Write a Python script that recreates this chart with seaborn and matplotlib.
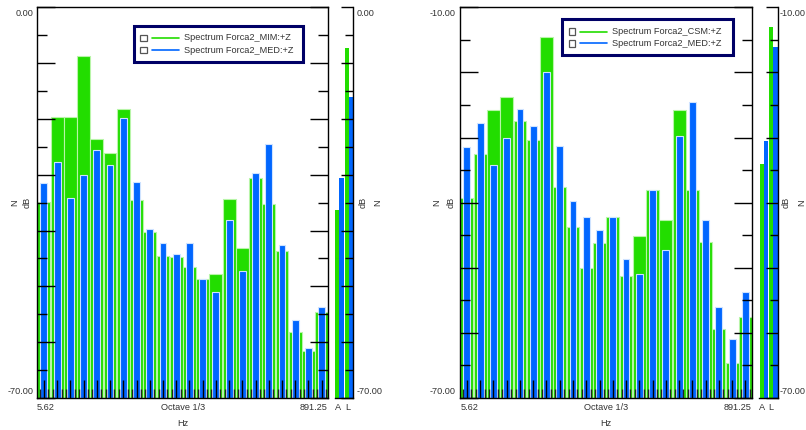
import numpy as np
import pandas as pd
import matplotlib
matplotlib.use("Agg")
import matplotlib.pyplot as plt
import seaborn as sns
from matplotlib.patches import Rectangle
from matplotlib.lines import Line2D

# ---------------- data ----------------
bands = ["6.3", "8", "10", "12.5", "16", "20", "25", "31.5", "40", "50", "63",
         "80", "100", "125", "160", "200", "250", "315", "400", "500", "630", "800"]

mim = [-34.9, -19.7, -19.7, -8.7, -23.6, -26.1, -18.3, -34.5, -40.3, -44.6, -44.7,
       -46.5, -48.6, -47.8, -34.3, -43.2, -30.6, -35.2, -43.6, -58.1, -61.5, -54.6]
csm = [-39.3, -32.5, -25.7, -23.8, -27.4, -30.4, -14.6, -37.6, -43.7, -50.0, -46.2,
       -42.2, -51.2, -45.1, -38.0, -42.7, -25.8, -38.0, -46.1, -59.4, -64.7, -57.5]
med = [-31.5, -27.7, -34.2, -30.0, -25.6, -28.2, -19.9, -31.3, -39.7, -42.2, -44.2,
       -42.2, -48.7, -51.0, -38.1, -47.2, -29.7, -24.5, -42.6, -56.0, -61.0, -53.7]

overall = ["A", "L"]
mim_overall = [-36.3, -7.3]
csm_overall = [-34.0, -13.0]
med_overall = [-30.6, -16.1]

legend_left = ["Spectrum Forca2_MIM:+Z", "Spectrum Forca2_MED:+Z"]
legend_right = ["Spectrum Forca2_CSM:+Z", "Spectrum Forca2_MED:+Z"]
x_low_label, x_mid_label, x_high_label = "5.62", "Octave 1/3", "891.25"

# ---------------- style ----------------
W, H = 806, 430
sns.set_style("white")
plt.rcParams["font.family"] = ["Liberation Sans", "DejaVu Sans"]
FS = 6.6
TXT = "#333333"
GREEN = "#22DD00"
BLUE = "#0066FF"
GREEN_EDGE = "#b8f5a8"
BLUE_EDGE = "#cfe3ff"

fig = plt.figure(figsize=(W / 100, H / 100), dpi=100)
fig.patch.set_facecolor("white")


def px_axes(x0, y0, x1, y1):
    return fig.add_axes([x0 / W, 1 - y1 / H, (x1 - x0) / W, (y1 - y0) / H])


def ftext(x, y, s, **kw):
    kw.setdefault("fontsize", FS)
    kw.setdefault("color", TXT)
    fig.text(x / W, 1 - y / H, s, **kw)


FLOOR = -70.0


def main_panel(ax, green_vals, top):
    df = pd.DataFrame({"band": bands,
                       "green": np.array(green_vals) - FLOOR,
                       "blue": np.array(med) - FLOOR})
    sns.barplot(data=df, x="band", y="green", order=bands, color=GREEN,
                width=0.97, bottom=FLOOR, edgecolor=GREEN_EDGE, linewidth=0.8,
                saturation=1, ax=ax)
    sns.barplot(data=df, x="band", y="blue", order=bands, color=BLUE,
                width=0.52, bottom=FLOOR, edgecolor=BLUE_EDGE, linewidth=0.8,
                saturation=1, ax=ax)
    ax.set_xlim(-0.5, len(bands) - 0.5)
    ax.set_ylim(FLOOR, top)
    ax.set_xlabel("")
    ax.set_ylabel("")
    ax.set_axisbelow(False)
    for s in ax.spines.values():
        s.set_visible(True)
        s.set_color("black")
        s.set_linewidth(1.0)
        s.set_zorder(3)
    ax.set_xticks(np.arange(len(bands)))
    ax.set_xticks(np.concatenate([np.arange(len(bands)) - 1 / 3,
                                  np.arange(len(bands)) + 1 / 3]), minor=True)
    ax.set_xticklabels([])
    ax.set_yticks(np.arange(FLOOR, top + 0.1, 10))
    ax.set_yticks(np.arange(FLOOR + 5, top, 10), minor=True)
    ax.set_yticklabels([])
    ax.tick_params(axis="x", which="major", direction="in", length=13, width=1,
                   color="black", bottom=True, top=False)
    ax.tick_params(axis="x", which="minor", direction="in", length=6.5, width=1,
                   color="#222222", bottom=True, top=False)
    ax.tick_params(axis="y", which="major", direction="in", length=13, width=1,
                   color="black", left=True, right=True)
    ax.tick_params(axis="y", which="minor", direction="in", length=7, width=1,
                   color="black", left=True, right=True)


def side_panel(ax, green_vals, top):
    df = pd.DataFrame({"metric": overall * 2,
                       "series": ["g"] * 2 + ["b"] * 2,
                       "val": list(np.array(green_vals) - FLOOR) + list(np.array(med_overall) - FLOOR)})
    sns.barplot(data=df, x="metric", y="val", hue="series", order=overall,
                hue_order=["g", "b"], palette={"g": GREEN, "b": BLUE},
                width=0.9, bottom=FLOOR, saturation=1, linewidth=0, legend=False, ax=ax)
    ax.set_xlim(-0.5, 1.5)
    ax.set_ylim(FLOOR, top)
    ax.set_xlabel("")
    ax.set_ylabel("")
    ax.set_axisbelow(False)
    ax.spines["left"].set_visible(False)
    ax.spines["top"].set_visible(False)
    for k in ("right", "bottom"):
        ax.spines[k].set_visible(True)
        ax.spines[k].set_color("black")
        ax.spines[k].set_linewidth(1.0)
        ax.spines[k].set_zorder(3)
    ax.set_xticks([])
    ax.set_yticks(np.arange(-70, top + 0.1, 10))
    ax.set_yticks(np.arange(-65, top, 10), minor=True)
    ax.set_yticklabels([])
    ax.tick_params(axis="y", which="major", direction="in", length=9, width=1,
                   color="black", left=False, right=True)
    ax.tick_params(axis="y", which="minor", direction="in", length=6, width=1,
                   color="black", left=False, right=True)


def legend_box(x0, y0, x1, y1, sq_x, line_x0, line_x1, text_x, ys, labels):
    fig.patches.append(Rectangle((x0 / W, 1 - y1 / H), (x1 - x0) / W, (y1 - y0) / H,
                                 transform=fig.transFigure, facecolor="white",
                                 edgecolor="#000066", linewidth=2.2, zorder=10))
    for y, lab, col in zip(ys, labels, [GREEN, BLUE]):
        s = 6.5
        fig.patches.append(Rectangle((sq_x / W, 1 - (y + s / 2) / H), s / W, s / H,
                                     transform=fig.transFigure, facecolor="white",
                                     edgecolor="#555555", linewidth=0.9, zorder=11))
        fig.lines.append(Line2D([line_x0 / W, line_x1 / W], [1 - y / H, 1 - y / H],
                                transform=fig.transFigure, color=col, linewidth=1.2,
                                zorder=11))
        ftext(text_x, y, lab, ha="left", va="center", zorder=12)


# ---------------- left chart ----------------
axL = px_axes(37.3, 7.3, 328.3, 398)
main_panel(axL, mim, 0)
axLs = px_axes(334.8, 7.3, 353.3, 398)
side_panel(axLs, mim_overall, 0)

# ---------------- right chart ----------------
axR = px_axes(460.3, 7.3, 752, 398)
main_panel(axR, csm, -10)
axRs = px_axes(759.2, 7.3, 778, 398)
side_panel(axRs, csm_overall, -10)

# ---------------- texts ----------------
for (xl, xs, top_lab, nx, dbx, snx, sdbx, xlo, xmid, xhi, ax_a, ax_l) in [
        (33.3, 356.7, "0.00", 14.5, 26.7, 378.0, 363.3, 36.7, 182.8, 327.3, 337.8, 347.8),
        (456.0, 780.0, "-10.00", 437.2, 451.5, 801.8, 786.3, 460.3, 606.3, 751.3, 762.0, 770.5)]:
    ftext(xl, 13.3, top_lab, ha="right", va="center")
    ftext(xl, 391.7, "-70.00", ha="right", va="center")
    ftext(xs, 13.3, top_lab, ha="left", va="center")
    ftext(xs, 391.7, "-70.00", ha="left", va="center")
    ftext(nx, 202.5, "N", ha="center", va="center", rotation=90)
    ftext(dbx, 202.5, "dB", ha="center", va="center", rotation=90)
    ftext(snx, 202.5, "N", ha="center", va="center", rotation=90)
    ftext(sdbx, 202.5, "dB", ha="center", va="center", rotation=90)
    ftext(xlo, 407.7, x_low_label, ha="left", va="center")
    ftext(xmid, 407.7, x_mid_label, ha="center", va="center")
    ftext(xhi, 407.7, x_high_label, ha="right", va="center")
    ftext(ax_a, 407.7, overall[0], ha="center", va="center")
    ftext(ax_l, 407.7, overall[1], ha="center", va="center")
    ftext(xmid, 424.0, "Hz", ha="center", va="center")

legend_box(134, 26, 303, 62, 140.2, 151.7, 179.3, 184.3, [38.0, 50.2], legend_left)
legend_box(562.3, 19.3, 733, 55, 568.7, 579.7, 607.0, 612.3, [31.6, 43.3], legend_right)

fig.savefig("out.png", dpi=100, facecolor="white")
